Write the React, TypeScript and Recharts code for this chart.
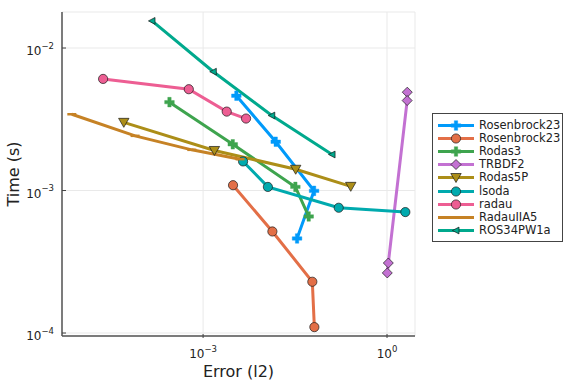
import { LineChart, Line, XAxis, YAxis, CartesianGrid } from 'recharts';

// error (l2) vs time (s)
const rosenbrock23aErr = [3.49e-3, 1.53e-2, 6.46e-2, 3.41e-2];
const rosenbrock23aTime = [4.63e-3, 2.2e-3, 9.95e-4, 4.61e-4];
const rosenbrock23bErr = [3.08e-3, 1.35e-2, 6.05e-2, 6.53e-2];
const rosenbrock23bTime = [1.09e-3, 5.16e-4, 2.29e-4, 1.1e-4];
const rodas3Err = [2.83e-4, 3.05e-3, 3.2e-2, 5.28e-2];
const rodas3Time = [4.17e-3, 2.11e-3, 1.06e-3, 6.58e-4];
const trbdf2Err = [2.14, 2.13, 1.05, 1.01];
const trbdf2Time = [4.9e-3, 4.28e-3, 3.1e-4, 2.64e-4];
const rodas5pErr = [5.09e-5, 1.53e-3, 3.24e-2, 0.256];
const rodas5pTime = [3.01e-3, 1.91e-3, 1.41e-3, 1.07e-3];
const lsodaErr = [4.49e-3, 1.14e-2, 0.163, 1.99];
const lsodaTime = [1.6e-3, 1.06e-3, 7.57e-4, 7.06e-4];
const radauErr = [2.34e-5, 5.85e-4, 2.43e-3, 5.02e-3];
const radauTime = [6.07e-3, 5.14e-3, 3.58e-3, 3.2e-3];
const radauIIA5Err = [7.23e-6, 7.78e-5, 6.55e-4, 4.01e-3];
const radauIIA5Time = [3.43e-3, 2.42e-3, 1.93e-3, 1.66e-3];
const ros34Err = [1.47e-4, 1.47e-3, 1.32e-2, 0.127];
const ros34Time = [1.55e-2, 6.82e-3, 3.36e-3, 1.79e-3];

const xTicks = [1e-3, 1];
const xTickExp = ['\u22123', '0'];
const yTicks = [1e-4, 1e-3, 1e-2];
const yTickExp = ['\u22124', '\u22123', '\u22122'];

const FONT = '"DejaVu Sans", sans-serif';

const toPoints = (err: number[], time: number[]) => err.map((e, i) => ({ x: e, y: time[i] }));

const series = [
  { name: 'Rosenbrock23', color: '#009AFA', marker: 'cross', data: toPoints(rosenbrock23aErr, rosenbrock23aTime) },
  { name: 'Rosenbrock23', color: '#E36F47', marker: 'circle', data: toPoints(rosenbrock23bErr, rosenbrock23bTime) },
  { name: 'Rodas3', color: '#3EA44E', marker: 'cross', data: toPoints(rodas3Err, rodas3Time) },
  { name: 'TRBDF2', color: '#C371D2', marker: 'diamond', data: toPoints(trbdf2Err, trbdf2Time) },
  { name: 'Rodas5P', color: '#AC8E18', marker: 'dtriangle', data: toPoints(rodas5pErr, rodas5pTime) },
  { name: 'lsoda', color: '#00AAAE', marker: 'circle', data: toPoints(lsodaErr, lsodaTime) },
  { name: 'radau', color: '#ED5E93', marker: 'hexagon', data: toPoints(radauErr, radauTime) },
  { name: 'RadauIIA5', color: '#C68225', marker: 'hline', data: toPoints(radauIIA5Err, radauIIA5Time) },
  { name: 'ROS34PW1a', color: '#00A98D', marker: 'ltriangle', data: toPoints(ros34Err, ros34Time) },
];

const Marker = ({ kind, cx, cy, color }: any) => {
  const edge = '#1a1a1a';
  if (kind === 'circle' || kind === 'hexagon') {
    return <circle cx={cx} cy={cy} r={4.6} fill={color} stroke={edge} strokeWidth={0.7} />;
  }
  if (kind === 'cross') {
    const a = 4.8, b = 1.7;
    const d = `M${cx - b},${cy - a}H${cx + b}V${cy - b}H${cx + a}V${cy + b}H${cx + b}V${cy + a}H${cx - b}V${cy + b}H${cx - a}V${cy - b}H${cx - b}Z`;
    return <path d={d} fill={color} stroke={color} strokeWidth={0.4} />;
  }
  if (kind === 'diamond') {
    const a = 5;
    return <polygon points={`${cx},${cy - a} ${cx + a},${cy} ${cx},${cy + a} ${cx - a},${cy}`} fill={color} stroke={edge} strokeWidth={0.7} />;
  }
  if (kind === 'dtriangle') {
    return <polygon points={`${cx - 5.2},${cy - 4} ${cx + 5.2},${cy - 4} ${cx},${cy + 5}`} fill={color} stroke={edge} strokeWidth={0.7} />;
  }
  if (kind === 'ltriangle') {
    return <polygon points={`${cx - 3.6},${cy} ${cx + 3},${cy - 3.4} ${cx + 3},${cy + 3.4}`} fill={color} stroke={edge} strokeWidth={0.7} />;
  }
  return <line x1={cx - 4.5} y1={cy} x2={cx + 4.5} y2={cy} stroke={color} strokeWidth={2.5} />;
};

const XTick = ({ x, y, payload, index }: any) => {
  const exp = xTickExp[xTicks.indexOf(payload.value)] ?? xTickExp[index];
  return (
    <g>
      <line x1={x} y1={y} x2={x} y2={y - 4} stroke="#444" strokeWidth={1} />
      <text x={x} y={y + 20} textAnchor="middle" fontFamily={FONT} fontSize={12} fill="#222">
        <tspan>10</tspan>
        <tspan dy={-6} fontSize={8.5}>{exp}</tspan>
      </text>
    </g>
  );
};

const YTick = ({ y, payload, index }: any) => {
  const exp = yTickExp[yTicks.indexOf(payload.value)] ?? yTickExp[index];
  return (
    <g>
      <line x1={62} y1={y} x2={66} y2={y} stroke="#444" strokeWidth={1} />
      <text x={54} y={y + 7} textAnchor="end" fontFamily={FONT} fontSize={12} fill="#222">
        <tspan>10</tspan>
        <tspan dy={-6.5} fontSize={8.5}>{exp}</tspan>
      </text>
    </g>
  );
};

const XLabel = ({ viewBox }: any) => (
  <text x={viewBox.x + viewBox.width / 2} y={viewBox.y + 41} textAnchor="middle" fontFamily={FONT} fontSize={16} fill="#222">
    Error (l2)
  </text>
);

const YLabel = ({ viewBox }: any) => {
  const cx = 19, cy = viewBox.y + viewBox.height / 2;
  return (
    <text x={cx} y={cy} transform={`rotate(-90 ${cx} ${cy})`} textAnchor="middle" fontFamily={FONT} fontSize={16} fill="#222">
      Time (s)
    </text>
  );
};

const LegendBox = () => (
  <div style={{ position: 'absolute', left: 432, top: 113, width: 131, height: 129, border: '1px solid #444', background: '#fff', boxSizing: 'border-box', padding: '5px 0 0 4px', fontFamily: FONT, fontSize: 11.5, color: '#222' }}>
    {series.map((s, i) => (
      <div key={i} style={{ display: 'flex', alignItems: 'center', height: 13.1 }}>
        <svg width={38} height={13} style={{ flex: 'none' }}>
          <line x1={1} y1={6.5} x2={37} y2={6.5} stroke={s.color} strokeWidth={3} />
          {s.marker !== 'hline' && <Marker kind={s.marker} cx={19} cy={6.5} color={s.color} />}
        </svg>
        <span style={{ marginLeft: 4, whiteSpace: 'nowrap', lineHeight: '13px' }}>{s.name}</span>
      </div>
    ))}
  </div>
);

export default function App() {
  return (
    <div style={{ position: 'absolute', left: 0, top: 0, width: 576, height: 384, background: '#fff' }}>
      <LineChart width={576} height={384} margin={{ top: 12, right: 161, left: 0, bottom: 0 }}>
        <CartesianGrid stroke="#e9e9e9" strokeWidth={1} />
        <XAxis
          dataKey="x"
          type="number"
          scale="log"
          domain={[5.0e-6, 2.86]}
          ticks={xTicks}
          allowDataOverflow
          height={48}
          interval={0}
          tickLine={false}
          tickSize={0}
          tick={<XTick />}
          axisLine={{ stroke: '#555', strokeWidth: 1.5 }}
          label={<XLabel />}
        />
        <YAxis
          dataKey="y"
          type="number"
          scale="log"
          domain={[9.53e-5, 1.79e-2]}
          ticks={yTicks}
          allowDataOverflow
          width={62}
          interval={0}
          tickLine={false}
          tickSize={0}
          tick={<YTick />}
          axisLine={{ stroke: '#555', strokeWidth: 1.5 }}
          label={<YLabel />}
        />
        {series.map((s, i) => (
          <Line
            key={i}
            data={s.data}
            dataKey="y"
            name={s.name}
            type="linear"
            stroke={s.color}
            strokeWidth={3}
            isAnimationActive={false}
            activeDot={false}
            dot={(p: any) => <Marker key={`${i}-${p.index}`} kind={s.marker} cx={p.cx} cy={p.cy} color={s.color} />}
          />
        ))}
      </LineChart>
      <LegendBox />
    </div>
  );
}
